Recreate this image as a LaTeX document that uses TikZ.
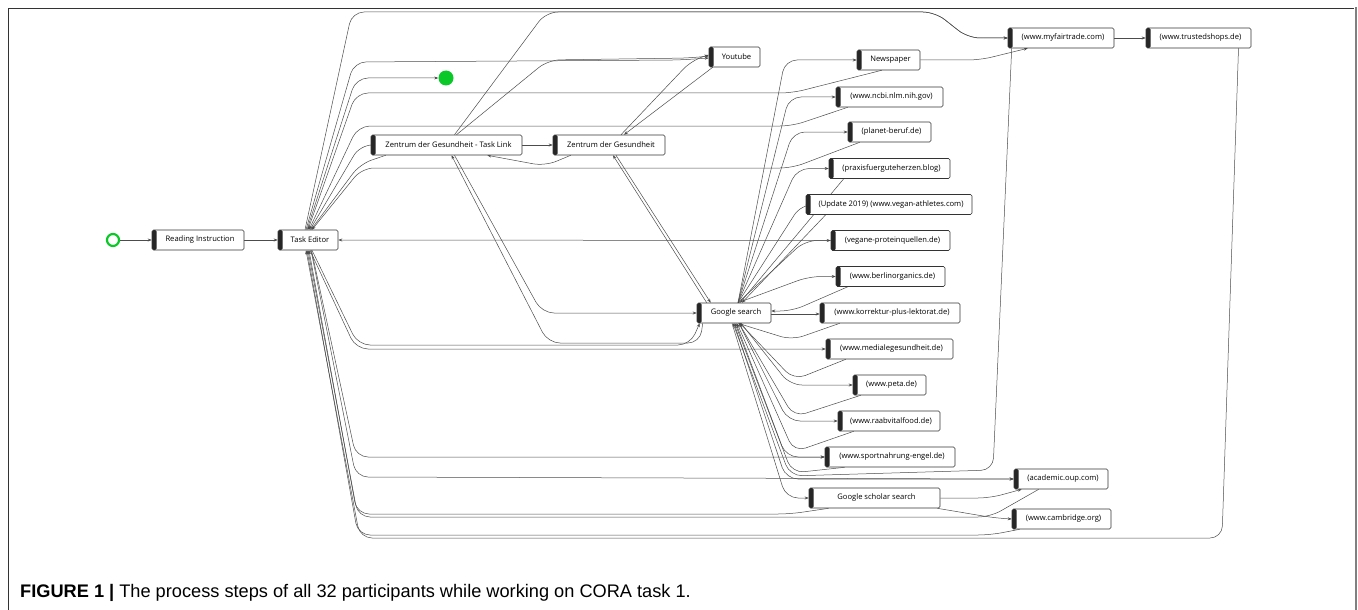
\documentclass[tikz,border=0pt]{standalone}
\usepackage{fontspec}
\setmainfont{Open Sans}
\newfontfamily\capfont{Liberation Sans}
\usetikzlibrary{arrows.meta}
\definecolor{grn}{RGB}{10,200,40}
\pgfdeclarelayer{bg}
\pgfsetlayers{bg,main}
\begin{document}
\begin{tikzpicture}[x=1pt,y=-1pt,
 box/.style={draw=black!80, line width=0.6pt, rounded corners=1.5pt, minimum height=20pt, inner sep=0pt,
   font=\fontsize{7.6}{8}\selectfont, fill=white,
   path picture={\fill[black!85] (path picture bounding box.north west) rectangle ([xshift=4.5pt]path picture bounding box.south west);}},
 e/.style={draw=black!70, line width=0.5pt, rounded corners=12pt, -{Stealth[length=4pt,width=3pt]}},
]
\useasboundingbox (0,0) rectangle (1358,610);
% frame
\draw[black!80, line width=0.8pt] (8,610) -- (8,8) -- (1354,8);
\draw[black!50, line width=1.8pt] (1356,7.5) -- (1356,610);

% nodes
\node[circle, draw=grn, line width=2.2pt, minimum size=12pt, inner sep=0pt] (sc) at (113,240) {};
\node[box, minimum width=92pt] (ri) at (198,240) {\hspace{4pt}Reading Instruction};
\node[box, minimum width=60pt] (te) at (308,240) {\hspace{4pt}Task Editor};
\node[circle, fill=grn, minimum size=15pt, inner sep=0pt] (ec) at (446,78) {};
\node[box, minimum width=51pt] (yt) at (734.5,57) {\hspace{4pt}Youtube};
\node[box, minimum width=151pt] (ztl) at (446.5,145) {\hspace{4pt}Zentrum der Gesundheit - Task Link};
\node[box, minimum width=112pt] (zdg) at (609,145) {\hspace{4pt}Zentrum der Gesundheit};
\node[box, minimum width=63pt] (np) at (888.5,60) {\hspace{4pt}Newspaper};
\node[box, minimum width=106pt] (mft) at (1061,38) {\hspace{4pt}(www.myfairtrade.com)};
\node[box, minimum width=105pt] (ts) at (1198.5,38) {\hspace{4pt}(www.trustedshops.de)};
\node[box, minimum width=107pt] (ncbi) at (889.5,97) {\hspace{4pt}(www.ncbi.nlm.nih.gov)};
\node[box, minimum width=83pt] (pb) at (889.5,132) {\hspace{4pt}(planet-beruf.de)};
\node[box, minimum width=121pt] (px) at (889.5,168.5) {\hspace{4pt}(praxisfuerguteherzen.blog)};
\node[box, minimum width=166pt] (va) at (889,204.5) {\hspace{4pt}(Update 2019) (www.vegan-athletes.com)};
\node[box, minimum width=119pt] (vp) at (890.5,240.5) {\hspace{4pt}(vegane-proteinquellen.de)};
\node[box, minimum width=109pt] (bo) at (890.5,276.5) {\hspace{4pt}(www.berlinorganics.de)};
\node[box, minimum width=74pt] (gs) at (734,313) {\hspace{4pt}Google search};
\node[box, minimum width=140pt] (kp) at (890,313) {\hspace{4pt}(www.korrektur-plus-lektorat.de)};
\node[box, minimum width=127pt] (mg) at (889.5,349) {\hspace{4pt}(www.medialegesundheit.de)};
\node[box, minimum width=73pt] (peta) at (889.5,385) {\hspace{4pt}(www.peta.de)};
\node[box, minimum width=102pt] (rv) at (889,421) {\hspace{4pt}(www.raabvitalfood.de)};
\node[box, minimum width=130pt] (sp) at (890,457) {\hspace{4pt}(www.sportnahrung-engel.de)};
\node[box, minimum width=94pt] (ao) at (1061,479) {\hspace{4pt}(academic.oup.com)};
\node[box, minimum width=131pt] (gss) at (874.5,498) {\hspace{4pt}Google scholar search};
\node[box, minimum width=99pt] (cam) at (1061.5,519) {\hspace{4pt}(www.cambridge.org)};

\node[anchor=base west, inner sep=0pt, font=\capfont\fontsize{18.2}{20}\selectfont] (cap) at (20,597)
  {\textbf{FIGURE 1 |} The process steps of all 32 participants while working on CORA task 1.};

\begin{pgfonlayer}{bg}
\draw[e] (sc) -- (ri);
\draw[e] (ri) -- (te);
\draw[e] (vp.west) -- (te.east);
% Task Editor upward fan
\draw[e] ([xshift=-3pt]te.north) -- (352,12) -- (935,12) -- (968,38) -- (mft.west);
\draw[e] ([xshift=-2pt]te.north) -- (354,62) -- (680,60) -- ([yshift=-1pt]yt.west);
\draw[e] ([xshift=-1pt]te.north) -- (356,78) -- (ec.west);
\draw[e] ([xshift=25pt]np.south west) -- (792,93) -- (356,93) -- (te.north);
\draw[e] ([xshift=12pt]ncbi.south west) -- (792,126) -- (358,126) -- ([xshift=1pt]te.north);
\draw[e] ([xshift=2pt]te.north) -- (360,145) -- (ztl.west);
\draw[e] ([xshift=15pt]ztl.south west) -- (360,164) -- ([xshift=3pt]te.north);
\draw[e] ([xshift=12pt]pb.south west) -- (792,168) -- (362,168) -- ([xshift=4pt]te.north);
% Zentrum
\draw[e] (ztl) -- (zdg);
\draw[e] ([xshift=18pt]zdg.south west) -- (545,166) -- ([xshift=-35pt]ztl.south east);
\draw[e] ([xshift=10pt]ztl.north) -- (548,60) -- (690,58) -- ([yshift=1pt]yt.west);
\draw[e] ([xshift=8pt]ztl.north) -- (546,12) -- (935,12) -- (968,38) -- (mft.west);
\draw[e] ([xshift=12pt]zdg.north) -- (692,60) -- ([yshift=2pt]yt.west);
\draw[e] ([xshift=4pt]yt.south west) -- ([xshift=15pt]zdg.north);
\draw[e] ([xshift=8pt]ztl.south) -- (542,313) -- (gs.west);
\draw[e] ([xshift=6pt]gs.south west) -- (700,343) -- (548,343) -- ([xshift=5pt]ztl.south);
\draw[e] ([xshift=4pt]te.south) -- (358,345) -- (690,345) -- ([xshift=3pt]gs.south west);
\draw[e] ([xshift=2pt]te.south) -- (356,349) -- (mg.west);
\draw[e] ([xshift=10pt]gs.north west) -- ([xshift=4pt]zdg.south);
\draw[e] ([xshift=7pt]zdg.south) -- ([xshift=14pt]gs.north west);
% Google search upward fan
\foreach \t/\yy/\xx in {np/60/785, ncbi/97/789, pb/132/793, px/168.5/797, va/204.5/801, vp/240.5/805, bo/276.5/809}
  \draw[e] ([xshift=4pt]gs.north) -- (\xx,\yy) -- (\t.west);
\draw[e] ([xshift=15pt]px.south west) -- ([xshift=6pt]gs.north);
\draw[e] ([xshift=20pt]va.south west) -- ([xshift=8pt]gs.north);
\draw[e] ([xshift=12pt]bo.south west) -- (792,311) -- ([yshift=2pt]gs.east);
\draw[e] ([yshift=-1pt]gs.east) -- ([yshift=-1pt]kp.west);
% Google search downward fan
\draw[e] ([xshift=20pt]kp.south west) -- (792,340) -- ([xshift=4pt]gs.south);
\draw[e] ([xshift=20pt]mg.south west) -- (794,380) -- ([xshift=6pt]gs.south);
\draw[e] ([xshift=7pt]gs.south) -- (790,385) -- (peta.west);
\draw[e] ([xshift=8pt]peta.south west) -- (794,417) -- ([xshift=5pt]gs.south);
\draw[e] ([xshift=5pt]gs.south) -- (788,421) -- (rv.west);
\draw[e] ([xshift=16pt]rv.south west) -- (794,452) -- ([xshift=3pt]gs.south);
\draw[e] ([xshift=2pt]gs.south) -- (786,457) -- (sp.west);
\draw[e] ([xshift=20pt]sp.south west) -- (792,473) -- ([xshift=1pt]gs.south);
\draw[e] (gs.south) -- (786,479) -- (ao.west);
\draw[e] ([xshift=-2pt]gs.south) -- (786,498) -- (gss.west);
% right side
\draw[e] ([xshift=4pt]mft.south west) -- (993,470) -- (790,476) -- ([xshift=-1pt]gs.south);
\draw[e] (np.east) -- (980,60) -- ([xshift=20pt]mft.south west);
\draw[e] (mft) -- (ts);
\draw[e] ([xshift=40pt]ts.south) -- (1222,538) -- (360,538) -- ([xshift=-2pt]te.south);
\draw[e] ([xshift=8pt]cam.south west) -- (990,535) -- (358,535) -- ([xshift=-1pt]te.south);
\draw[e] ([xshift=-3pt]gss.south east) -- (995,518) -- (cam.west);
\draw[e] (gss.east) -- (990,498) -- ([xshift=8pt]ao.south west);
\draw[e] ([xshift=25pt]ao.south west) -- (990,517) -- (358,517) -- (te.south);
\draw[e] ([xshift=20pt]gss.south west) -- (790,514) -- (357,514) -- ([xshift=1pt]te.south);
\draw[e] ([xshift=3pt]te.south) -- (356,477) -- (ao.west);
\draw[e] ([xshift=3.5pt]te.south) -- (356,457) -- (sp.west);
\end{pgfonlayer}
\end{tikzpicture}
\end{document}
